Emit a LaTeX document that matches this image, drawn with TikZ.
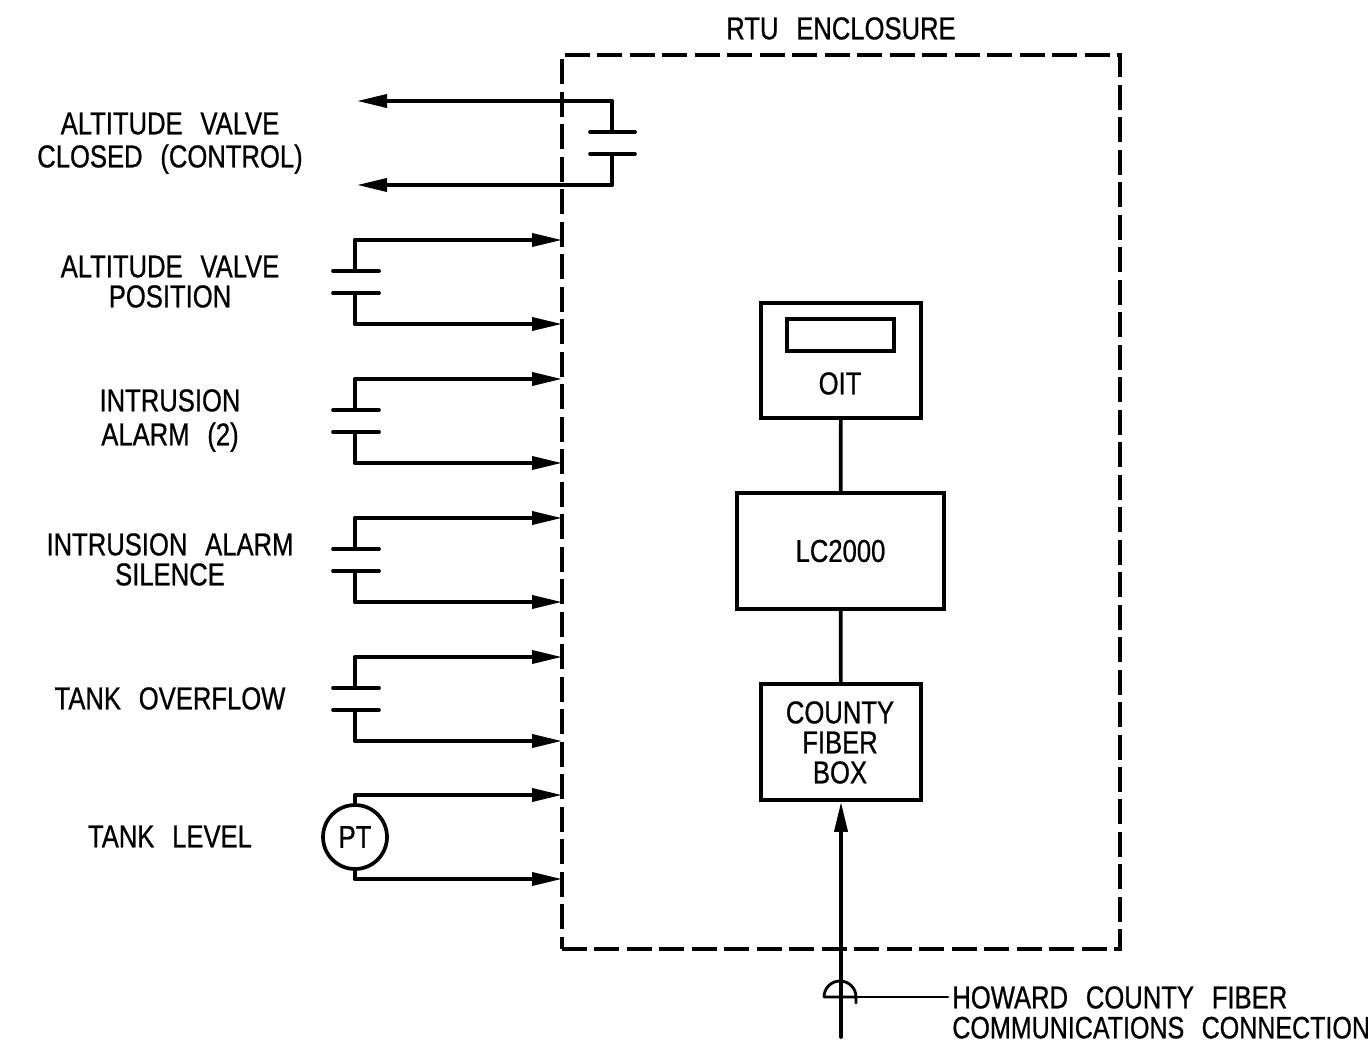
\documentclass[tikz,border=0pt]{standalone}
\usepackage{fontspec}
\setmainfont{Liberation Sans}[FakeStretch=0.81,WordSpace=2.5,FakeBold=0.7]
\usepackage{xcolor}
\usetikzlibrary{arrows.meta, positioning, calc}

\tikzset{
	wire/.style={line width=2.1pt, line cap=round, line join=miter},
	thinwire/.style={line width=1.6pt, line cap=round},
	feed/.style={wire, -{Stealth[length=0.6cm, width=0.26cm, inset=0pt]}},
	enclosure/.style={draw, line width=2.1pt, dash pattern=on 0.5cm off 0.15cm},
	blockbox/.style={draw, line width=2.1pt, inner sep=0pt, align=center},
	lbl/.style={inner sep=0pt, yshift=0.02cm, text height=12.9pt, text depth=0pt, font=\fontsize{18}{18}\selectfont},
}

\begin{document}
\begin{tikzpicture}[x=0.02cm, y=-0.02cm]
	\useasboundingbox (0,0) rectangle (1368,1053);
	% enclosure
	\node[enclosure, minimum width=558*0.02cm, minimum height=894*0.02cm, anchor=north west] (rtu) at (560,53) {};
	\node[lbl] (rtulbl) at (841,29) {RTU ENCLOSURE};
	% blocks
	\node[blockbox, minimum width=160*0.02cm, minimum height=115*0.02cm] (oit) at (841,360.5) {};
	\node[blockbox, minimum width=107*0.02cm, minimum height=32*0.02cm] (oitscreen) at (840.5,335) {};
	\node[lbl] (oitlbl) at (840,384) {OIT};
	\node[blockbox, lbl, minimum width=207*0.02cm, minimum height=116*0.02cm, text height=, text depth=, yshift=0cm] (lc) at (840.5,552) {LC2000};
	\node[blockbox, minimum width=160*0.02cm, minimum height=116*0.02cm] (fiberbox) at (841,742) {};
	\node[lbl] (fiberlbla) at (840,713) {COUNTY};
	\node[lbl] (fiberlblb) at (840,743) {FIBER};
	\node[lbl] (fiberlblc) at (840,773) {BOX};
	\draw[wire] (oit) -- (lc);
	\draw[wire] (lc) -- (fiberbox);
	% fiber entry
	\coordinate (fiberend) at (fiberbox.south |- 0,1037);
	\draw[feed] (fiberend) -- (fiberbox.south);
	\coordinate (jointl) at (824,997);
	\coordinate (jointr) at (856,1003);
	\draw[thinwire] (jointl) -- (856,997) (jointl) arc[start angle=180, end angle=360, radius=16] -- (jointr);
	\node[lbl, anchor=west] (fiberlbld) at (952,998) {HOWARD COUNTY FIBER};
	\node[lbl, anchor=west, font=\fontsize{17.6}{18}\selectfont] (fiberlble) at (952,1028) {COMMUNICATIONS CONNECTION};
	\draw[thinwire] (856,997) -- ([xshift=-0.08cm]fiberlbld.west);
	% control output
	\coordinate (ctla) at (612,101);
	\coordinate (ctlb) at (612,185);
	\draw[wire] (612,132) -- (ctla);
	\draw[feed] (ctla) -- (357,101);
	\draw[wire] (612,154) -- (ctlb);
	\draw[feed] (ctlb) -- (357,185);
	\draw[wire] (590,132) -- (635,132) (590,154) -- (635,154);
	% contact inputs
	\foreach \y/\name in {240/pos, 379/intr, 518/sil, 657/over} {
		\coordinate (\name a) at (355,\y);
		\coordinate (\name b) at (355,\y+84);
		\draw[wire] (355,\y+31) -- (\name a);
		\draw[feed] (\name a) -- (562,\y);
		\draw[wire] (355,\y+53) -- (\name b);
		\draw[feed] (\name b) -- (562,\y+84);
		\draw[wire] (333,\y+31) -- (379,\y+31) (333,\y+53) -- (379,\y+53);
	}
	% transmitter
	\node[draw, circle, line width=2.1pt, minimum size=64*0.02cm, inner sep=0pt, font=\fontsize{18}{18}\selectfont] (pt) at (355,837) {PT};
	\coordinate (pta) at (355,795);
	\coordinate (ptb) at (355,879);
	\draw[wire] (pt.north) -- (pta);
	\draw[feed] (pta) -- (562,795);
	\draw[wire] (pt.south) -- (ptb);
	\draw[feed] (ptb) -- (562,879);
	% labels
	\node[lbl] (lbla) at (170,124) {ALTITUDE VALVE};
	\node[lbl] (lblb) at (170,157) {CLOSED (CONTROL)};
	\node[lbl] (lblc) at (170,267) {ALTITUDE VALVE};
	\node[lbl] (lbld) at (170,297) {POSITION};
	\node[lbl] (lble) at (170,401) {INTRUSION};
	\node[lbl] (lblf) at (170,435) {ALARM (2)};
	\node[lbl] (lblg) at (170,545) {INTRUSION ALARM};
	\node[lbl] (lblh) at (170,575) {SILENCE};
	\node[lbl] (lbli) at (170,699) {TANK OVERFLOW};
	\node[lbl] (lblj) at (170,837) {TANK LEVEL};
\end{tikzpicture}
\end{document}
